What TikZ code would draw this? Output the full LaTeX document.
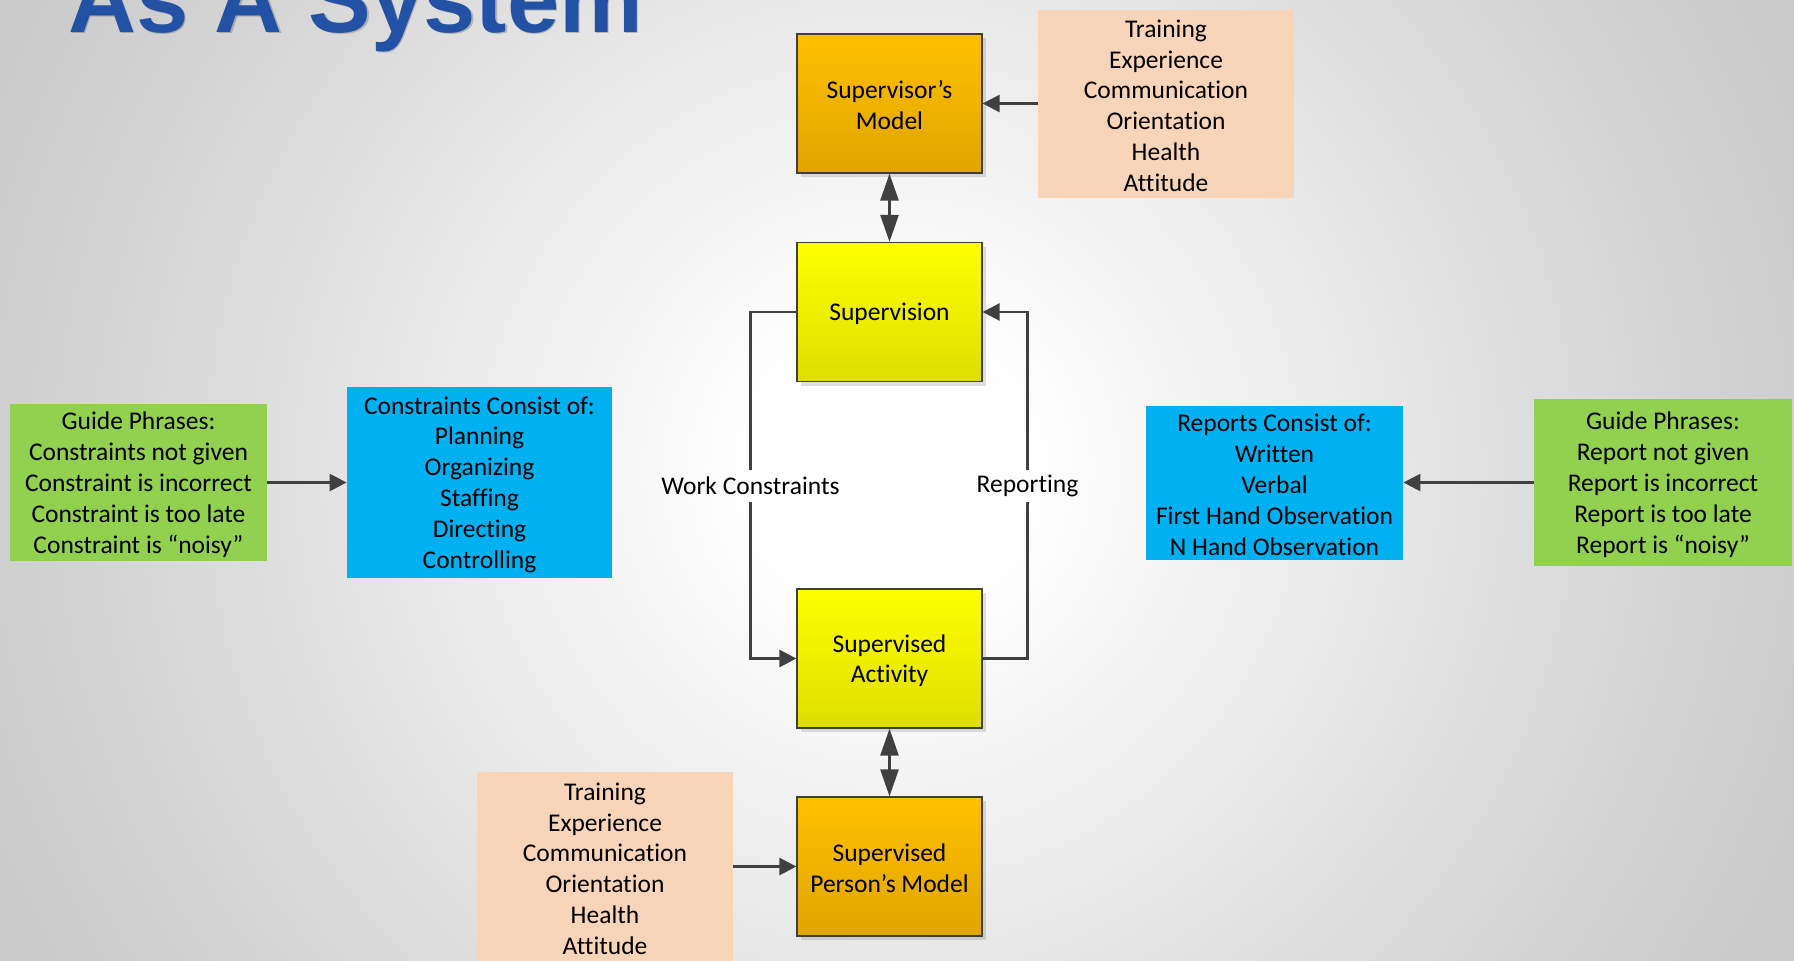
\documentclass[tikz,border=0pt]{standalone}
\usepackage{fontspec}
\setmainfont{Carlito}[Ligatures={NoCommon,NoRequired,NoContextual}]
\newfontfamily\headfont{Liberation Sans}
\usetikzlibrary{arrows.meta,shadows}

\definecolor{arrowgray}{HTML}{404040}
\definecolor{framegray}{HTML}{3F3F3F}
\definecolor{peach}{HTML}{F8D5B9}
\definecolor{leaf}{HTML}{92D050}
\definecolor{sky}{HTML}{00B0F0}
\definecolor{ambertop}{HTML}{FFC000}
\definecolor{amberbot}{HTML}{E0A500}
\definecolor{lemontop}{HTML}{FFFF00}
\definecolor{lemonbot}{HTML}{DEDE00}
\definecolor{titleblue}{HTML}{2352A5}

% soft grey stage, white in the middle
\pgfdeclareradialshading{stage}{\pgfpoint{0bp}{0bp}}{%
  color(0bp)=(white); color(3bp)=(white);
  color(18bp)=(black!17); color(34bp)=(black!30);
  color(43bp)=(black!36); color(50bp)=(black!38)}

% taller first line so each text block sits a little lower
\newcommand\fl{\rule{0pt}{11pt}}

\tikzset{
  every node/.style={font=\fontsize{12.75}{15.45}\selectfont, text=black},
  core/.style={draw=framegray, line width=0.6pt, minimum width=92.5pt,
    minimum height=69.5pt, align=center, inner sep=0pt,
    drop shadow={shadow xshift=2pt, shadow yshift=-2pt, fill=black, opacity=0.12}},
  amber/.style={core, top color=ambertop, bottom color=amberbot},
  lemon/.style={core, top color=lemontop, bottom color=lemonbot},
  note/.style={align=center, inner sep=0pt},
  tag/.style={inner sep=0pt, minimum height=16pt},
  conn/.style={draw=arrowgray, line width=1.25pt},
  tip/.style={-{Triangle[length=8.5pt,width=8.5pt]}},
  both/.style={{Triangle[length=13.5pt,width=9pt]}-{Triangle[length=13.5pt,width=9pt]}},
}

\begin{document}
\begin{tikzpicture}[x=0.5pt,y=-0.5pt]
\clip (0,0) rectangle (1794,960);
\shade[shading=stage] (-210,-630) rectangle (1990,1570);

% heading
\node[anchor=base west, inner sep=0pt, text=black, opacity=0.2,
  font=\headfont\bfseries\fontsize{47}{50}\selectfont] (titleshade) at (69.5,33.5) {As A System};
\node[anchor=base west, inner sep=0pt, text=titleblue,
  font=\headfont\bfseries\fontsize{47}{50}\selectfont] (title) at (68,32) {As A System};

% central chain
\node[amber] (smodel)   at (889.5,103.5) {\fl Supervisor’s\\Model};
\node[lemon] (superv)   at (889.5,312)   {\fl Supervision};
\node[lemon] (activity) at (889.5,658.5) {\fl Supervised\\Activity};
\node[amber] (pmodel)   at (889.5,866.5) {\fl Supervised\\Person’s Model};

% factor lists
\node[note, fill=peach, minimum width=128pt, minimum height=94pt] (facA) at (1166,103.5)
  {\fl Training\\Experience\\Communication\\Orientation\\Health\\Attitude};
\node[note, fill=peach, minimum width=128pt, minimum height=95pt] (facB) at (605,866.5)
  {\fl Training\\Experience\\Communication\\Orientation\\Health\\Attitude};

% left side
\node[note, fill=leaf, minimum width=128.5pt, minimum height=78.5pt] (guideL) at (138.5,482.5)
  {\fl Guide Phrases:\\Constraints not given\\Constraint is incorrect\\Constraint is too late\\Constraint is “noisy”};
\node[note, fill=sky, minimum width=132.5pt, minimum height=95.5pt] (consL) at (479.5,482.5)
  {\fl Constraints Consist of:\\Planning\\Organizing\\Staffing\\Directing\\Controlling};

% right side
\node[note, fill=sky, minimum width=128.5pt, minimum height=77pt] (repR) at (1274.5,482.5)
  {\fl Reports Consist of:\\Written\\Verbal\\First Hand Observation\\N Hand Observation};
\node[note, fill=leaf, minimum width=129pt, minimum height=83.5pt] (guideR) at (1663,482.5)
  {\fl Guide Phrases:\\Report not given\\Report is incorrect\\Report is too late\\Report is “noisy”};

% loop labels
\node[tag] (wc)  at (750.5,486)  {Work Constraints};
\node[tag, text height=9pt, text depth=2.5pt] (rep) at (1027.5,486) {Reporting};

% connectors
\draw[conn,tip] (facA.west) -- (smodel.east);
\draw[conn,both] (smodel.south) -- (superv.north);
\draw[conn,both] (activity.south) -- (pmodel.north);
\draw[conn,tip] (facB.east) -- (pmodel.west);
\draw[conn,tip] (guideL.east) -- (consL.west);
\draw[conn,tip] (guideR.west) -- (repR.east);

\draw[conn] (superv.west) -| (wc.north);
\draw[conn,tip] (wc.south) |- (activity.west);
\draw[conn] (activity.east) -| (rep.south);
\draw[conn,tip] (rep.north) |- (superv.east);
\end{tikzpicture}
\end{document}
